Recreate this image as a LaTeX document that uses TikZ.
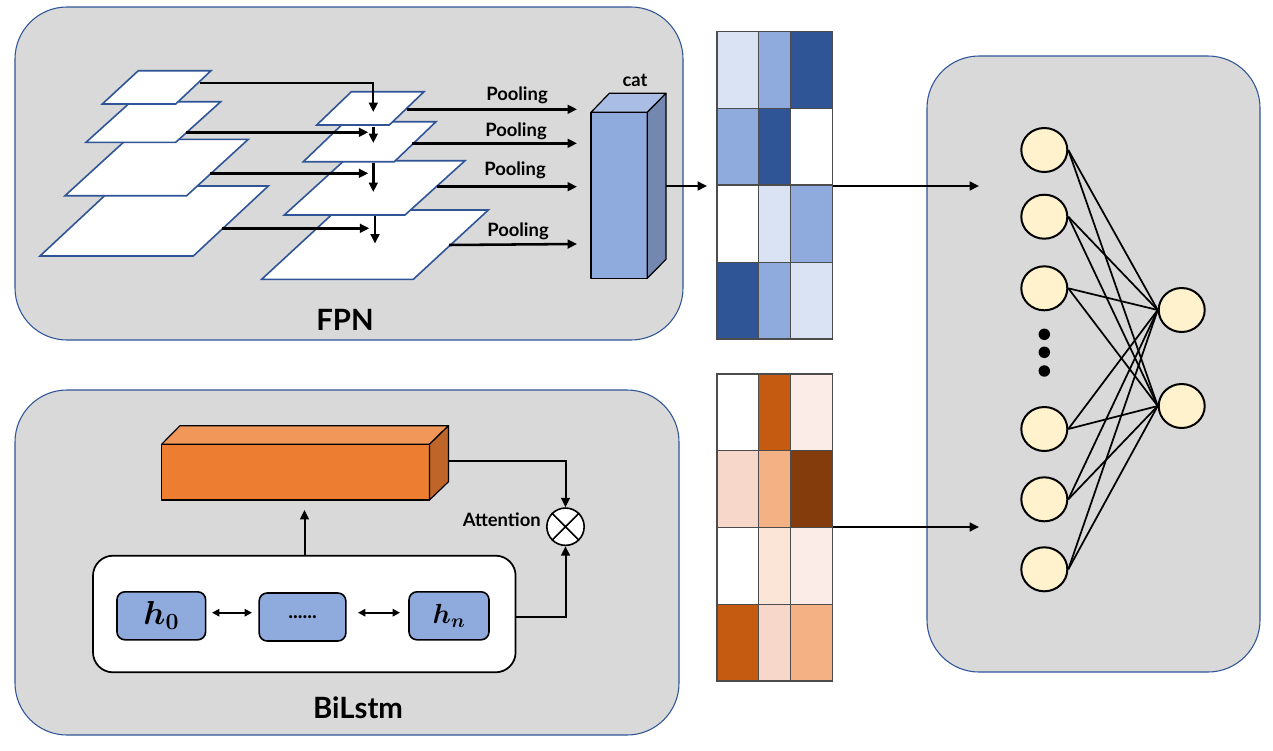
\documentclass[tikz,border=0pt]{standalone}
\usepackage{fontspec}
\usepackage{bm}
\usetikzlibrary{arrows.meta,shapes.geometric,calc}
\newfontfamily\lblfont{Lato}
\definecolor{panelfill}{HTML}{D9D9D9}
\definecolor{edgeblue}{HTML}{2F5597}
\definecolor{blA}{HTML}{DAE3F3}
\definecolor{blB}{HTML}{8FAADC}
\definecolor{blC}{HTML}{2F5597}
\definecolor{catTop}{HTML}{A9BDE5}
\definecolor{catSide}{HTML}{7487B0}
\definecolor{orA}{HTML}{FCECE8}
\definecolor{orB}{HTML}{F8D7CB}
\definecolor{orC}{HTML}{F4B183}
\definecolor{orD}{HTML}{FBE5D6}
\definecolor{orE}{HTML}{C55A11}
\definecolor{orF}{HTML}{843C0C}
\definecolor{boxFront}{HTML}{ED7D31}
\definecolor{boxTop}{HTML}{F1975A}
\definecolor{boxSide}{HTML}{C0652A}
\definecolor{neuronfill}{HTML}{FFF2CC}
\newcommand{\gcell}[5]{\draw[cellline,fill=#5] (#1,#2) rectangle (#3,#4);}
\begin{document}
\begin{tikzpicture}[x=0.75pt,y=-0.75pt,
  panelbox/.style={draw=edgeblue,line width=0.8pt,fill=panelfill,rounded corners=39pt},
  layer/.style={draw=edgeblue,line width=1.2pt,fill=white,line join=miter},
  arr/.style={line width=1.9pt,-{Triangle[length=7pt,width=6.5pt]}},
  darr/.style={line width=1.6pt,{Triangle[length=5.5pt,width=5.5pt]}-{Triangle[length=5.5pt,width=5.5pt]}},
  lbl/.style={font=\lblfont\bfseries\fontsize{13.8}{15}\selectfont,inner sep=0pt},
  biglbl/.style={font=\lblfont\bfseries\fontsize{22}{26}\selectfont,inner sep=0pt},
  cellline/.style={draw=black!70,line width=0.8pt},
  cubeline/.style={draw=black,line width=0.9pt,line join=round},
  neuron/.style={ellipse,draw=black,line width=1.5pt,fill=neuronfill,minimum width=34.5pt,minimum height=33pt,inner sep=0pt},
  nnline/.style={line width=1.3pt},
  hbox/.style={draw=black,line width=1.2pt,fill=blB,rounded corners=6pt}
]
\useasboundingbox (0,0) rectangle (1273,750);
\fill[white] (0,0) rectangle (1273,750);

% panels
\draw[panelbox] (15,7) rectangle (683,340);
\draw[panelbox] (15,390) rectangle (679,735);
\draw[panelbox] (927,56) rectangle (1260,672);
\node[biglbl] (fpnlbl) at (345,320) {FPN};
\node[biglbl] (bilbl) at (358,708) {BiLstm};

% left pyramid
\draw[layer] (115,186) -- (268.3,186) -- (193.3,256) -- (40,256) -- cycle;
\draw[layer] (126.7,139.3) -- (248.3,139.3) -- (186.7,195.7) -- (65,195.7) -- cycle;
\draw[layer] (131,101.7) -- (220.7,101.7) -- (175.7,142.3) -- (86,142.3) -- cycle;
\draw[layer] (138.3,70.7) -- (211,70.7) -- (175.7,104) -- (102.3,104) -- cycle;
% right pyramid
\draw[layer] (336.7,210) -- (488.3,210) -- (413.3,279.3) -- (261.7,279.3) -- cycle;
\draw[layer] (344,160.7) -- (465,160.7) -- (405,215) -- (284.3,215) -- cycle;
\draw[layer] (345,121.7) -- (436,121.7) -- (394.3,161.7) -- (303.3,161.7) -- cycle;
\draw[layer] (351.4,91.7) -- (424,91.7) -- (389.3,125) -- (316.7,125) -- cycle;

% lateral connections
\coordinate (a1s) at (200,82.7);   \coordinate (a1e) at (373.3,112);
\coordinate (a2s) at (185.7,132.3); \coordinate (a2e) at (368.3,132.3);
\coordinate (a3s) at (210,173.3);   \coordinate (a3e) at (368.3,173.3);
\coordinate (a4s) at (222.3,228.3); \coordinate (a4e) at (369.3,228.3);
\draw[arr,line width=1.5pt] (a1s) -| (a1e);
\draw[arr] (a2s) -- (a2e);
\draw[arr] (a3s) -- (a3e);
\draw[arr] (a4s) -- (a4e);
% top-down
\coordinate (v1s) at (373.3,126.7); \coordinate (v1e) at (373.3,143);
\coordinate (v2s) at (373.3,162.7); \coordinate (v2e) at (373.3,192);
\coordinate (v3s) at (375,216);     \coordinate (v3e) at (375,243.5);
\draw[arr] (v1s) -- (v1e);
\draw[arr] (v2s) -- (v2e);
\draw[arr] (v3s) -- (v3e);

% pooling
\coordinate (p1s) at (406.7,109.3); \coordinate (p1e) at (577,109.3);
\coordinate (p2s) at (412.3,143.3); \coordinate (p2e) at (577,143.3);
\coordinate (p3s) at (436.7,186.7); \coordinate (p3e) at (577,186.7);
\coordinate (p4s) at (449,245);     \coordinate (p4e) at (577,244);
\draw[arr] (p1s) -- (p1e);
\draw[arr] (p2s) -- (p2e);
\draw[arr] (p3s) -- (p3e);
\draw[arr] (p4s) -- (p4e);
\node[lbl] (pl1) at (517,95) {Pooling};
\node[lbl] (pl2) at (516,131) {Pooling};
\node[lbl] (pl3) at (515,170) {Pooling};
\node[lbl] (pl4) at (518,231) {Pooling};

% cat cuboid
\draw[cubeline,fill=blB] (591,112.3) rectangle (647.3,278.3);
\draw[cubeline,fill=catTop] (591,112.3) -- (609.3,93.3) -- (666,93.3) -- (647.3,112.3) -- cycle;
\draw[cubeline,fill=catSide] (647.3,112.3) -- (666,93.3) -- (666,259.3) -- (647.3,278.3) -- cycle;
\node[lbl] (catlbl) at (635,80) {cat};
\coordinate (cats) at (666,186); \coordinate (grids) at (707,186);
\draw[arr] (cats) -- (grids);

% blue grid
\gcell{717}{31.7}{758.3}{108.3}{blA}
\gcell{758.3}{31.7}{790.7}{108.3}{blB}
\gcell{790.7}{31.7}{832.7}{108.3}{blC}
\gcell{717}{108.3}{758.3}{185}{blB}
\gcell{758.3}{108.3}{790.7}{185}{blC}
\gcell{790.7}{108.3}{832.7}{185}{white}
\gcell{717}{185}{758.3}{262.3}{white}
\gcell{758.3}{185}{790.7}{262.3}{blA}
\gcell{790.7}{185}{832.7}{262.3}{blB}
\gcell{717}{262.3}{758.3}{339}{blC}
\gcell{758.3}{262.3}{790.7}{339}{blB}
\gcell{790.7}{262.3}{832.7}{339}{blA}
\coordinate (bgo) at (832.7,186); \coordinate (nn1) at (979,186);
\draw[arr] (bgo) -- (nn1);

% orange grid
\gcell{717}{374}{758.3}{450.7}{white}
\gcell{758.3}{374}{790.7}{450.7}{orE}
\gcell{790.7}{374}{832.7}{450.7}{orA}
\gcell{717}{450.7}{758.3}{527.3}{orB}
\gcell{758.3}{450.7}{790.7}{527.3}{orC}
\gcell{790.7}{450.7}{832.7}{527.3}{orF}
\gcell{717}{527.3}{758.3}{604.3}{white}
\gcell{758.3}{527.3}{790.7}{604.3}{orD}
\gcell{790.7}{527.3}{832.7}{604.3}{orA}
\gcell{717}{604.3}{758.3}{681}{orE}
\gcell{758.3}{604.3}{790.7}{681}{orB}
\gcell{790.7}{604.3}{832.7}{681}{orC}
\coordinate (ogo) at (832.7,527); \coordinate (nn2) at (979,527);
\draw[arr] (ogo) -- (nn2);

% BiLstm block
\draw[cubeline,fill=boxFront] (161.6,444.3) rectangle (429.5,500);
\draw[cubeline,fill=boxTop] (161.6,444.3) -- (179.9,425.7) -- (448.5,425.7) -- (429.5,444.3) -- cycle;
\draw[cubeline,fill=boxSide] (429.5,444.3) -- (448.5,425.7) -- (448.5,481.7) -- (429.5,500) -- cycle;

\node[circle,draw=black,line width=1.2pt,fill=white,minimum size=28pt,inner sep=0pt] (ot) at (565.5,526.7) {};
\draw[line width=1.2pt] (ot.north east) -- (ot.south west) (ot.north west) -- (ot.south east);
\node[lbl,anchor=east] (attlbl) at (541,520) {Attention};

\coordinate (boxo) at (448.5,460.7);
\draw[arr,line width=1.5pt] (boxo) -| (ot.north);

\draw[draw=black,line width=1.3pt,fill=white,rounded corners=15pt] (93,555.7) rectangle (515.6,672.3);
\node[hbox,minimum width=66.5pt,minimum height=36pt] (h0) at (161.3,615.8) {\fontsize{27}{30}\selectfont$\bm{h_0}$};
\node[hbox,minimum width=65pt,minimum height=36pt] (hd) at (302.5,617) {\lblfont\bfseries\fontsize{15}{16}\selectfont ......};
\node[hbox,minimum width=60pt,minimum height=36pt] (hn) at (449,615.8) {\fontsize{22}{24}\selectfont$\bm{h_n}$};
\coordinate (d1s) at (212,612.7); \coordinate (d1e) at (252,612.7);
\coordinate (d2s) at (358,612.7); \coordinate (d2e) at (400,612.7);
\draw[darr] (d1s) -- (d1e);
\draw[darr] (d2s) -- (d2e);

\coordinate (wbtop) at (304.5,555.7); \coordinate (upend) at (304.5,510);
\draw[arr,line width=1.5pt] (wbtop) -- (upend);
\coordinate (wbr) at (515.6,616.7);
\draw[arr,line width=1.5pt] (wbr) -| (ot.south);

% neural net
\node[neuron] (i1) at (1044.3,150) {};
\node[neuron] (i2) at (1044.3,216.7) {};
\node[neuron] (i3) at (1044.3,288.3) {};
\node[neuron] (i4) at (1044.3,429) {};
\node[neuron] (i5) at (1044.3,499.3) {};
\node[neuron] (i6) at (1044.3,569.3) {};
\node[neuron] (o1) at (1181.7,310) {};
\node[neuron] (o2) at (1181.7,406) {};
\foreach \i in {1,...,6}{
  \draw[nnline] (i\i.east) -- (o1.west);
  \draw[nnline] (i\i.east) -- (o2.west);
}
\foreach \yy in {334.3,352.3,371}{
  \fill (1044.3,\yy) circle (4.3pt);
}
\end{tikzpicture}
\end{document}
